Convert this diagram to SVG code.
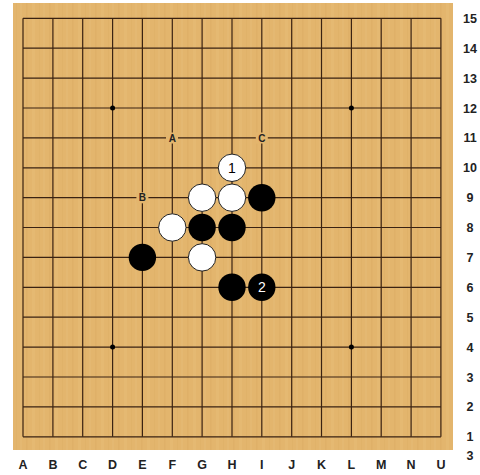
<svg xmlns="http://www.w3.org/2000/svg" width="480" height="475" viewBox="0 0 480 475">
<defs>
<pattern id="wood" patternUnits="userSpaceOnUse" width="23" height="40">
<rect width="23" height="40" fill="#E3B56D"/>
<rect x="3" width="1.5" height="40" fill="#D9A85E" opacity="0.3"/>
<rect x="9" width="3" height="40" fill="#E8BE7A" opacity="0.35"/>
<rect x="16" width="1" height="40" fill="#D6A65C" opacity="0.25"/>
<rect x="20" width="2" height="40" fill="#E9C07E" opacity="0.3"/>
</pattern>
<style>
.g{stroke:#3A2212;stroke-width:1.2;fill:none}
.lab{font-family:"Liberation Sans",Arial,sans-serif;font-size:12.5px;font-weight:bold;fill:#222;text-anchor:middle}
.mk{font-family:"Liberation Sans",Arial,sans-serif;font-size:10px;font-weight:bold;fill:#222;text-anchor:middle}
.b{fill:#000}
.w{fill:#fff;stroke:#222;stroke-width:1}
.num{font-family:"Liberation Sans",Arial,sans-serif;font-size:14px;text-anchor:middle}
</style>
</defs>
<rect width="480" height="475" fill="#fff"/>
<rect x="13" y="3" width="440" height="447" fill="url(#wood)"/>
<g id="grid">
<path class="g" d="M23 18.3H440.9M23 48.2H440.9M23 78.1H440.9M23 108H440.9M23 137.9H440.9M23 167.8H440.9M23 197.7H440.9M23 227.5H440.9M23 257.4H440.9M23 287.3H440.9M23 317.2H440.9M23 347.1H440.9M23 377H440.9M23 406.9H440.9M23 436.8H440.9"/>
<path class="g" d="M23 18.3V436.8M52.9 18.3V436.8M82.7 18.3V436.8M112.6 18.3V436.8M142.4 18.3V436.8M172.3 18.3V436.8M202.1 18.3V436.8M232 18.3V436.8M261.8 18.3V436.8M291.7 18.3V436.8M321.5 18.3V436.8M351.4 18.3V436.8M381.2 18.3V436.8M411.1 18.3V436.8M440.9 18.3V436.8"/>
<circle cx="112.6" cy="108" r="2.5" fill="#000"/>
<circle cx="351.4" cy="108" r="2.5" fill="#000"/>
<circle cx="112.6" cy="347.1" r="2.5" fill="#000"/>
<circle cx="351.4" cy="347.1" r="2.5" fill="#000"/>
</g>
<g id="coords">
<text class="lab" x="23" y="469">A</text>
<text class="lab" x="52.9" y="469">B</text>
<text class="lab" x="82.7" y="469">C</text>
<text class="lab" x="112.6" y="469">D</text>
<text class="lab" x="142.4" y="469">E</text>
<text class="lab" x="172.3" y="469">F</text>
<text class="lab" x="202.1" y="469">G</text>
<text class="lab" x="232" y="469">H</text>
<text class="lab" x="261.8" y="469">I</text>
<text class="lab" x="291.7" y="469">J</text>
<text class="lab" x="321.5" y="469">K</text>
<text class="lab" x="351.4" y="469">L</text>
<text class="lab" x="381.2" y="469">M</text>
<text class="lab" x="411.1" y="469">N</text>
<text class="lab" x="440.9" y="469">U</text>
<text class="lab" x="470" y="22.8">15</text>
<text class="lab" x="470" y="52.7">14</text>
<text class="lab" x="470" y="82.6">13</text>
<text class="lab" x="470" y="112.5">12</text>
<text class="lab" x="470" y="142.4">11</text>
<text class="lab" x="470" y="172.3">10</text>
<text class="lab" x="470" y="202.2">9</text>
<text class="lab" x="470" y="232">8</text>
<text class="lab" x="470" y="261.9">7</text>
<text class="lab" x="470" y="291.8">6</text>
<text class="lab" x="470" y="321.7">5</text>
<text class="lab" x="470" y="351.6">4</text>
<text class="lab" x="470" y="381.5">3</text>
<text class="lab" x="470" y="411.4">2</text>
<text class="lab" x="470" y="441.3">1</text>
<text class="lab" x="470" y="460">3</text>
</g>
<g id="markA"><rect x="166" y="132.5" width="12" height="11" fill="#E3B56D"/><text class="mk" x="172.3" y="141.6">A</text></g>
<g id="markB"><rect x="136.4" y="192.3" width="12" height="11" fill="#E3B56D"/><text class="mk" x="142.4" y="201.4">B</text></g>
<g id="markC"><rect x="255.8" y="132.5" width="12" height="11" fill="#E3B56D"/><text class="mk" x="261.8" y="141.6">C</text></g>
<g id="stones">
<circle class="w" cx="232" cy="167.8" r="13.7"/>
<text class="num" x="232" y="172.8" fill="#000">1</text>
<circle class="w" cx="202.1" cy="197.7" r="13.7"/>
<circle class="w" cx="232" cy="197.7" r="13.7"/>
<circle class="b" cx="261.8" cy="197.7" r="13.7"/>
<circle class="w" cx="172.3" cy="227.5" r="13.7"/>
<circle class="b" cx="202.1" cy="227.5" r="13.7"/>
<circle class="b" cx="232" cy="227.5" r="13.7"/>
<circle class="b" cx="142.4" cy="257.4" r="13.7"/>
<circle class="w" cx="202.1" cy="257.4" r="13.7"/>
<circle class="b" cx="232" cy="287.3" r="13.7"/>
<circle class="b" cx="261.8" cy="287.3" r="13.7"/>
<text class="num" x="261.8" y="292.3" fill="#fff">2</text>
</g>
</svg>
